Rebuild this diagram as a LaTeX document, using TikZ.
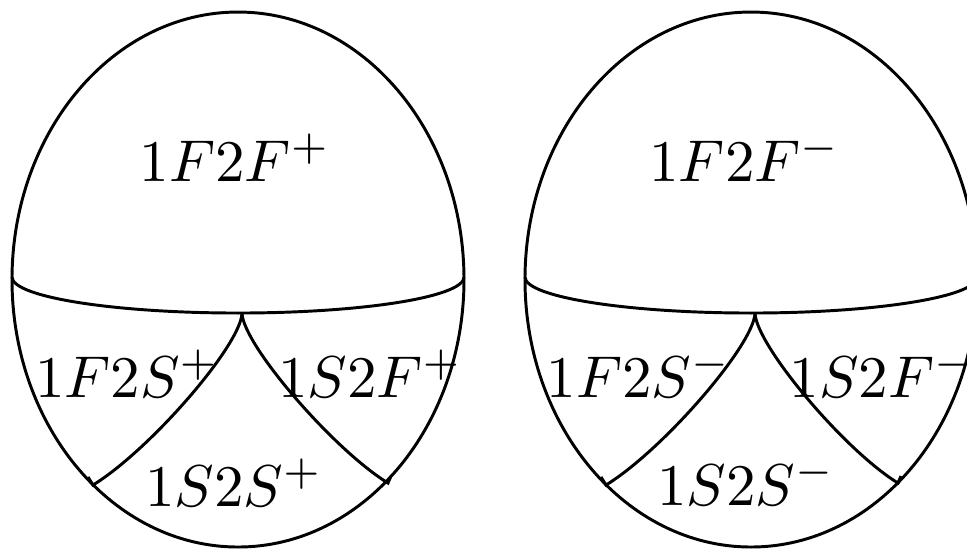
\documentclass[tikz,border=0pt]{standalone}
\begin{document}
\begin{tikzpicture}[x=0.1695pt,y=-0.1695pt,line width=0.5pt,
  lbl/.style={anchor=base,inner sep=0pt}]
\useasboundingbox (0,0) rectangle (967,548);
\clip (0,0) rectangle (967,548);
% ---------- left ellipse ----------
\coordinate (Lc) at (238,279.5);
\draw (Lc) ellipse [x radius=226, y radius=267.5];
\coordinate (LdL) at (12,277);
\draw (LdL) arc[start angle=180, end angle=0, x radius=226, y radius=36];
\coordinate (Lcusp) at (242,313);
\coordinate (LeL) at (93,485);
\coordinate (LeR) at (388,483);
\draw (Lcusp) .. controls (241,345) and (150,450) .. (LeL) -- ++(-5,-8);
\draw (Lcusp) .. controls (243,345) and (334,450) .. (LeR) -- ++(3,-7);
\node[lbl] (a1) at (235,181) {$1F2F^{+}$};
\node[lbl] (a2) at (127,397) {$1F2S^{+}$};
\node[lbl] (a3) at (370,397) {$1S2F^{+}$};
\node[lbl] (a4) at (234,506) {$1S2S^{+}$};
% ---------- right ellipse ----------
\coordinate (Rc) at (751,279.5);
\draw (Rc) ellipse [x radius=226, y radius=267.5];
\coordinate (RdL) at (525,277);
\draw (RdL) arc[start angle=180, end angle=0, x radius=226, y radius=36];
\coordinate (Rcusp) at (755,313);
\coordinate (ReL) at (606,485);
\coordinate (ReR) at (898,483);
\draw (Rcusp) .. controls (754,345) and (663,450) .. (ReL) -- ++(-5,-8);
\draw (Rcusp) .. controls (756,345) and (844,450) .. (ReR) -- ++(3,-7);
\node[lbl] (b1) at (745,181) {$1F2F^{-}$};
\node[lbl] (b2) at (639,397) {$1F2S^{-}$};
\node[lbl] (b3) at (882,397) {$1S2F^{-}$};
\node[lbl] (b4) at (746,505) {$1S2S^{-}$};
\end{tikzpicture}
\end{document}
